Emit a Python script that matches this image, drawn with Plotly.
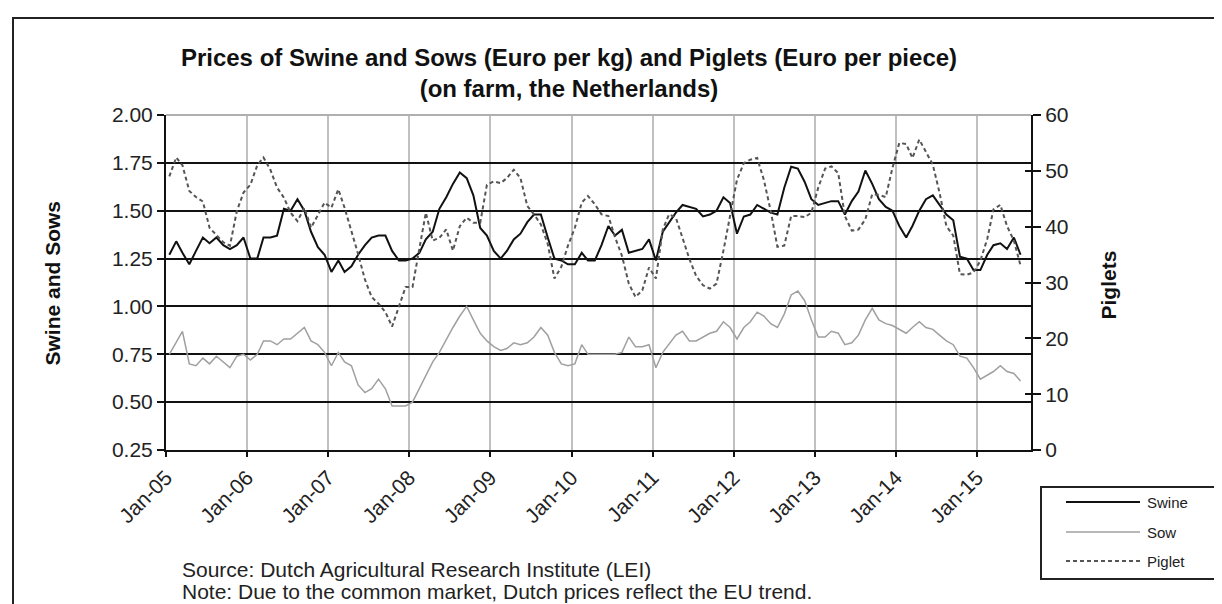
import pandas as pd
import plotly.graph_objects as go

# monthly prices, Jan-2005 .. Jul-2015
months = pd.date_range("2005-01-01", periods=127, freq="MS") + pd.Timedelta(days=15)

swine = [
    1.27, 1.34, 1.28, 1.22, 1.29, 1.36, 1.33, 1.36, 1.32, 1.30, 1.32, 1.36,  # 2005
    1.25, 1.25, 1.36, 1.36, 1.37, 1.51, 1.50, 1.56, 1.50, 1.39, 1.31, 1.27,  # 2006
    1.18, 1.24, 1.18, 1.21, 1.27, 1.32, 1.36, 1.37, 1.37, 1.29, 1.24, 1.24,  # 2007
    1.25, 1.28, 1.35, 1.39, 1.51, 1.57, 1.64, 1.70, 1.67, 1.58, 1.41, 1.37,  # 2008
    1.29, 1.25, 1.29, 1.35, 1.38, 1.44, 1.48, 1.48, 1.36, 1.25, 1.24, 1.22,  # 2009
    1.22, 1.28, 1.24, 1.24, 1.32, 1.42, 1.37, 1.40, 1.28, 1.29, 1.30, 1.35,  # 2010
    1.24, 1.39, 1.44, 1.49, 1.53, 1.52, 1.51, 1.47, 1.48, 1.50, 1.57, 1.54,  # 2011
    1.38, 1.47, 1.48, 1.53, 1.51, 1.49, 1.48, 1.62, 1.73, 1.72, 1.65, 1.56,  # 2012
    1.53, 1.54, 1.55, 1.55, 1.48, 1.55, 1.60, 1.71, 1.64, 1.56, 1.52, 1.50,  # 2013
    1.42, 1.36, 1.42, 1.50, 1.56, 1.58, 1.53, 1.48, 1.45, 1.26, 1.25, 1.19,  # 2014
    1.19, 1.27, 1.32, 1.33, 1.30, 1.36, 1.27,                                # 2015
]
sow = [
    0.75, 0.81, 0.87, 0.70, 0.69, 0.73, 0.70, 0.74, 0.71, 0.68, 0.74, 0.75,
    0.72, 0.75, 0.82, 0.82, 0.80, 0.83, 0.83, 0.86, 0.89, 0.82, 0.80, 0.76,
    0.69, 0.76, 0.71, 0.69, 0.59, 0.55, 0.57, 0.62, 0.57, 0.48, 0.48, 0.48,
    0.50, 0.57, 0.64, 0.71, 0.76, 0.83, 0.89, 0.95, 1.00, 0.93, 0.86, 0.82,
    0.79, 0.77, 0.78, 0.81, 0.80, 0.81, 0.84, 0.89, 0.85, 0.76, 0.70, 0.69,
    0.70, 0.80, 0.75, 0.75, 0.75, 0.75, 0.75, 0.76, 0.84, 0.79, 0.79, 0.80,
    0.68, 0.76, 0.80, 0.85, 0.87, 0.82, 0.82, 0.84, 0.86, 0.87, 0.92, 0.89,
    0.83, 0.89, 0.92, 0.97, 0.95, 0.91, 0.89, 0.96, 1.06, 1.08, 1.03, 0.93,
    0.84, 0.84, 0.87, 0.86, 0.80, 0.81, 0.85, 0.93, 0.99, 0.93, 0.91, 0.90,
    0.88, 0.86, 0.89, 0.92, 0.89, 0.88, 0.85, 0.82, 0.80, 0.74, 0.73, 0.68,
    0.62, 0.64, 0.66, 0.69, 0.66, 0.65, 0.61,
]
piglet = [
    49.0, 52.4, 51.0, 46.4, 45.3, 44.5, 39.8, 38.4, 37.2, 36.6, 42.8, 46.1,
    47.5, 51.0, 52.4, 50.2, 47.0, 45.2, 42.5, 41.0, 43.4, 39.8, 42.2, 44.3,
    43.4, 46.7, 43.4, 39.3, 35.1, 30.5, 27.4, 26.2, 24.7, 22.1, 25.6, 29.2,
    29.2, 36.3, 42.5, 37.5, 38.0, 39.5, 35.7, 40.1, 41.6, 40.7, 40.7, 47.5,
    48.1, 47.8, 48.7, 50.2, 48.7, 43.7, 42.2, 40.4, 36.9, 30.7, 32.8, 36.6,
    39.8, 44.3, 45.5, 44.0, 42.2, 41.9, 38.1, 34.8, 29.8, 27.4, 28.6, 32.7,
    30.7, 39.5, 42.2, 41.6, 37.8, 34.2, 31.2, 29.5, 28.9, 29.8, 35.7, 42.2,
    48.4, 51.4, 52.0, 52.3, 48.4, 42.8, 36.4, 36.6, 41.9, 41.9, 41.7, 42.5,
    47.0, 50.4, 50.8, 49.6, 41.9, 39.3, 39.5, 41.3, 45.8, 45.7, 45.3, 50.5,
    55.0, 54.8, 52.3, 55.6, 53.5, 51.1, 46.1, 40.1, 38.4, 31.5, 31.4, 31.8,
    33.9, 37.8, 43.1, 43.9, 40.1, 37.5, 33.0,
]

series_names = ["Swine", "Sow", "Piglet"]

FONT = "Liberation Sans, Arial, sans-serif"
W, H = 1222, 604
# plot area in pixels
L, R, T, B = 158, 1023, 107, 442


def px(x):  # pixel -> paper x
    return (x - L) / (R - L)


def py(y):  # pixel -> paper y
    return (B - y) / (B - T)


styles = {
    "Swine": dict(color="#111111", width=2),
    "Sow": dict(color="#a0a0a0", width=1.5),
    "Piglet": dict(color="#555555", width=2, dash="4px,3px"),
}

fig = go.Figure()
fig.add_trace(go.Scatter(x=months, y=swine, name="Swine", mode="lines", line=styles["Swine"], yaxis="y"))
fig.add_trace(go.Scatter(x=months, y=sow, name="Sow", mode="lines", line=styles["Sow"], yaxis="y"))
fig.add_trace(go.Scatter(x=months, y=piglet, name="Piglet", mode="lines", line=styles["Piglet"], yaxis="y2"))
# empty trace so the inner tick half of the right axis gets drawn
fig.add_trace(go.Scatter(x=[], y=[], yaxis="y3", hoverinfo="skip"))

tickfont = dict(family=FONT, size=21, color="#222")

fig.update_layout(
    width=W, height=H,
    margin=dict(l=L, r=W - R, t=T, b=H - B),
    paper_bgcolor="white", plot_bgcolor="white",
    showlegend=False,
    title=dict(
        text="Prices of Swine and Sows (Euro per kg) and Piglets (Euro per piece)<br>(on farm, the Netherlands)",
        font=dict(family=FONT, size=24, color="#111", weight="bold"),
        x=561 / W, xanchor="center", xref="container",
        y=1 - 58 / H, yanchor="middle", yref="container",
    ),
    xaxis=dict(
        type="date", range=["2005-01-01", "2015-09-01"],
        tick0="2005-01-01", dtick="M12", tickformat="%b-%y", tickangle=-45,
        showgrid=True, gridcolor="#c0c0c0", gridwidth=1.5,
        showline=True, linecolor="#111", linewidth=2,
        ticks="outside", ticklen=5, tickcolor="#111", tickwidth=1.5,
        tickfont=tickfont,
    ),
    yaxis=dict(
        range=[0.25, 2.0], dtick=0.25, tick0=0.25, tickformat=".2f",
        showgrid=True, gridcolor="#111", gridwidth=2,
        showline=True, linecolor="#111", linewidth=2,
        ticks="outside", ticklen=7, tickcolor="#111", tickwidth=1.5,
        tickfont=tickfont, zeroline=False,
    ),
    yaxis2=dict(
        range=[0, 60], dtick=10, overlaying="y", side="right",
        showgrid=False, zeroline=False,
        showline=True, linecolor="#111", linewidth=2,
        ticks="outside", ticklen=8, tickcolor="#111", tickwidth=1.5,
        tickfont=tickfont,
    ),
    yaxis3=dict(
        range=[0, 60], dtick=10, overlaying="y", side="right",
        showgrid=False, zeroline=False, showline=False, showticklabels=False,
        ticks="inside", ticklen=6, tickcolor="#111", tickwidth=1.5,
    ),
)

shapes = [
    # gray top border of the plot area
    dict(type="line", xref="paper", yref="paper", x0=0, x1=1, y0=1, y1=1,
         line=dict(color="#b0b0b0", width=2), layer="above"),
    # outer chart frame
    dict(type="rect", xref="paper", yref="paper", x0=px(5), x1=px(1218), y0=py(603), y1=py(10),
         line=dict(color="#222", width=2)),
    # legend box
    dict(type="rect", xref="paper", yref="paper", x0=px(1033), x1=px(1208), y0=py(571), y1=py(479),
         line=dict(color="#222", width=2)),
]
annotations = [
    dict(text="<b>Swine and Sows</b>", x=px(30), y=py(275), textangle=-90,
         font=dict(family=FONT, size=21, color="#111")),
    dict(text="<b>Piglets</b>", x=px(1113), y=py(277), textangle=-90,
         font=dict(family=FONT, size=21, color="#111")),
    dict(text="Source: Dutch Agricultural Research Institute (LEI)", x=px(172), y=py(561),
         xanchor="left", font=dict(family=FONT, size=21, color="#222")),
    dict(text="Note: Due to the common market, Dutch prices reflect the EU trend.", x=px(172), y=py(583),
         xanchor="left", font=dict(family=FONT, size=21, color="#222")),
]
# manual legend with long line samples
for name, ly in zip(series_names, [494, 524, 553]):
    shapes.append(dict(type="line", xref="paper", yref="paper", x0=px(1058), x1=px(1132), y0=py(ly), y1=py(ly),
                       line=styles[name]))
    annotations.append(dict(text=name, x=px(1137), y=py(ly), xanchor="left",
                            font=dict(family=FONT, size=15, color="#222")))

for a in annotations:
    a.update(xref="paper", yref="paper", showarrow=False, yanchor=a.get("yanchor", "middle"))

fig.update_layout(shapes=shapes, annotations=annotations)

fig.write_html("out.html")
